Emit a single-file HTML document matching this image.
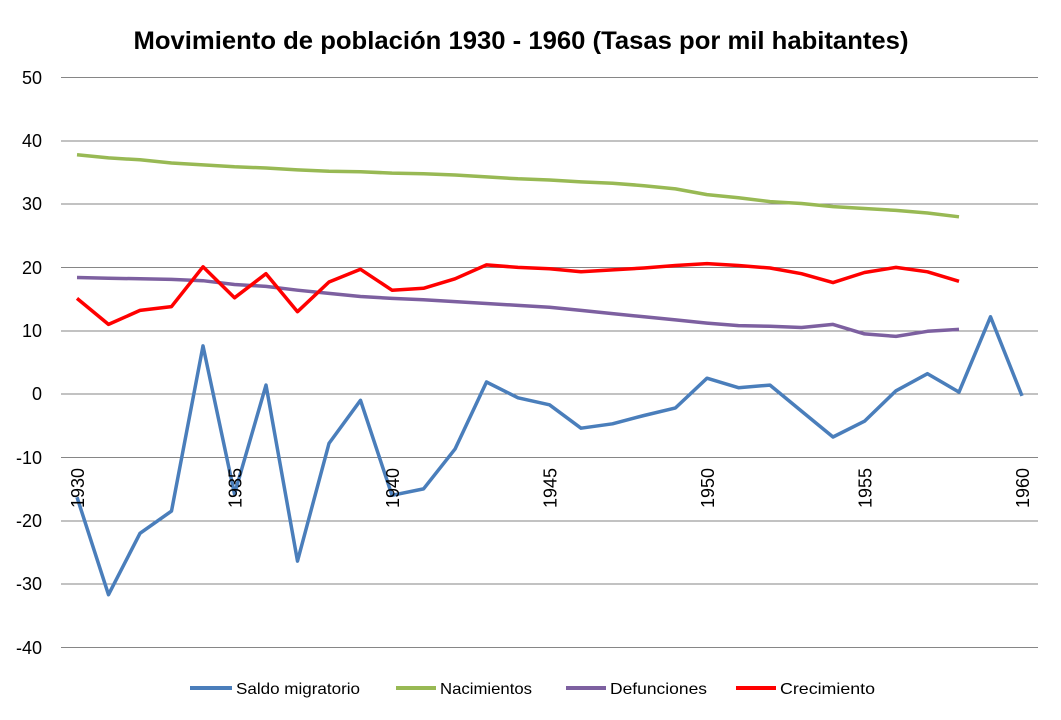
<!DOCTYPE html>
<html><head><meta charset="utf-8"><style>body{margin:0;background:#fff}svg{display:block}text{font-family:"Liberation Sans",sans-serif}</style></head><body>
<svg width="1061" height="720" xmlns="http://www.w3.org/2000/svg">
<text x="521" y="49" font-size="25" font-weight="bold" text-anchor="middle" fill="#000" textLength="775" lengthAdjust="spacingAndGlyphs">Movimiento de población 1930 - 1960 (Tasas por mil habitantes)</text>
<g stroke="#868686" stroke-width="1">
<line x1="61" x2="1038" y1="77.5" y2="77.5"/><line x1="61" x2="1038" y1="141" y2="141"/><line x1="61" x2="1038" y1="204" y2="204"/><line x1="61" x2="1038" y1="267.5" y2="267.5"/><line x1="61" x2="1038" y1="331" y2="331"/><line x1="61" x2="1038" y1="394" y2="394"/><line x1="61" x2="1038" y1="457.5" y2="457.5"/><line x1="61" x2="1038" y1="521" y2="521"/><line x1="61" x2="1038" y1="584" y2="584"/><line x1="61" x2="1038" y1="647.5" y2="647.5"/>
</g>
<g font-size="18" text-anchor="end" fill="#000">
<text x="42" y="84">50</text><text x="42" y="147">40</text><text x="42" y="210">30</text><text x="42" y="274">20</text><text x="42" y="337">10</text><text x="42" y="400">0</text><text x="42" y="464">-10</text><text x="42" y="527">-20</text><text x="42" y="590">-30</text><text x="42" y="654">-40</text>
</g>
<g fill="none" stroke-width="3.5" stroke-linejoin="round">
<polyline id="s" stroke="#4a7ebb" points=""/>
<polyline id="n" stroke="#98b954" points=""/>
<polyline id="d" stroke="#7d60a0" points=""/>
<polyline id="c" stroke="#ff0000" points=""/>
</g>
<g font-size="18" fill="#000">
<text transform="translate(84,508) rotate(-90)">1930</text>
<text transform="translate(241.5,508) rotate(-90)">1935</text>
<text transform="translate(399,508) rotate(-90)">1940</text>
<text transform="translate(556.5,508) rotate(-90)">1945</text>
<text transform="translate(714,508) rotate(-90)">1950</text>
<text transform="translate(871.5,508) rotate(-90)">1955</text>
<text transform="translate(1029,508) rotate(-90)">1960</text>
</g>
<g font-size="16" fill="#000">
<line x1="190" x2="232" y1="688" y2="688" stroke="#4a7ebb" stroke-width="4"/><text x="236" y="694" textLength="124" lengthAdjust="spacingAndGlyphs">Saldo migratorio</text>
<line x1="396" x2="436" y1="688" y2="688" stroke="#98b954" stroke-width="4"/><text x="440" y="694" textLength="92" lengthAdjust="spacingAndGlyphs">Nacimientos</text>
<line x1="566" x2="606" y1="688" y2="688" stroke="#7d60a0" stroke-width="4"/><text x="610" y="694" textLength="97" lengthAdjust="spacingAndGlyphs">Defunciones</text>
<line x1="736" x2="776" y1="688" y2="688" stroke="#ff0000" stroke-width="4"/><text x="780" y="694" textLength="95" lengthAdjust="spacingAndGlyphs">Crecimiento</text>
</g>
<script>
function X(i){return 77+i*31.5}function Y(v){return 394-v*6.33}
function P(a){return a.map((v,i)=>X(i).toFixed(1)+","+Y(v).toFixed(1)).join(" ")}
var s=[-16.3,-31.7,-22,-18.5,7.6,-15.8,1.4,-26.4,-7.8,-1,-16,-15,-8.7,1.9,-0.6,-1.7,-5.4,-4.7,-3.4,-2.2,2.5,1,1.4,-2.7,-6.8,-4.3,0.5,3.2,0.3,12.2,-0.3];
var n=[37.8,37.3,37,36.5,36.2,35.9,35.7,35.4,35.2,35.1,34.9,34.8,34.6,34.3,34,33.8,33.5,33.3,32.9,32.4,31.5,31,30.4,30.1,29.6,29.3,29,28.6,28];
var d=[18.4,18.3,18.2,18.1,17.9,17.3,17,16.4,15.9,15.4,15.1,14.9,14.6,14.3,14,13.7,13.2,12.7,12.2,11.7,11.2,10.8,10.7,10.5,11,9.5,9.1,9.9,10.2];
var c=[15.1,11,13.2,13.8,20.1,15.2,19,13,17.7,19.7,16.4,16.7,18.2,20.4,20,19.8,19.3,19.6,19.9,20.3,20.6,20.3,19.9,19,17.6,19.2,20,19.3,17.8];
document.getElementById("s").setAttribute("points",P(s));
document.getElementById("n").setAttribute("points",P(n));
document.getElementById("d").setAttribute("points",P(d));
document.getElementById("c").setAttribute("points",P(c));
</script>
</svg>
</body></html>
